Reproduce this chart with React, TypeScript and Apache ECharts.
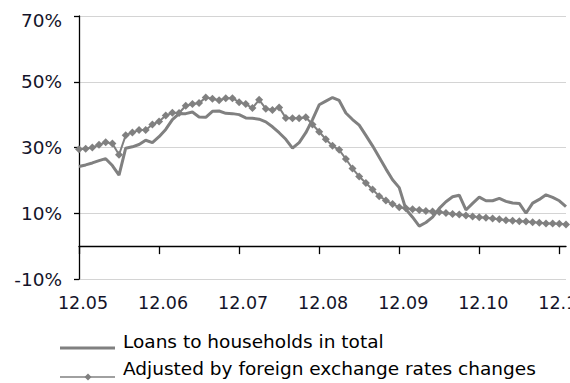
import React, { useEffect, useRef } from "react";
import * as echarts from "echarts";

// Month labels on the category axis (one tick per month)
const months = ["12.05", "12.06", "12.07", "12.08", "12.09", "12.10", "12.11"];
const pointsPerMonth = 12;

// Annual growth, %
const loansTotal = [
  24.2, 24.7, 25.3, 26.0, 26.6, 24.5, 21.6, 29.8, 30.2, 30.9,
  32.2, 31.5, 33.3, 35.5, 38.5, 40.3, 40.3, 40.8, 39.3, 39.2,
  41.0, 41.1, 40.4, 40.3, 40.0, 39.0, 38.9, 38.6, 37.8, 36.3,
  34.5, 32.5, 29.8, 31.5, 34.5, 38.5, 43.0, 44.1, 45.2, 44.3,
  40.5, 38.5, 36.8, 33.7, 30.5, 27.0, 23.5, 20.2, 17.8, 11.2,
  8.8, 6.1, 7.2, 8.8, 11.5, 13.5, 15.0, 15.5, 11.0, 13.0,
  14.9, 13.8, 13.8, 14.5, 13.6, 13.1, 13.0, 10.0, 13.1, 14.2,
  15.6, 14.8, 13.8, 12.0,
];

const adjustedFx = [
  29.5, 29.6, 30.0, 30.8, 31.6, 31.2, 27.8, 33.7, 34.6, 35.3,
  35.3, 37.0, 37.9, 39.7, 40.6, 40.5, 42.7, 43.2, 43.5, 45.2,
  44.8, 44.4, 45.0, 45.0, 43.8, 43.2, 42.0, 44.5, 41.8, 41.4,
  42.2, 39.0, 38.9, 38.9, 39.2, 37.0, 34.8, 32.5, 30.5, 29.3,
  26.5, 23.6, 21.2, 19.2, 17.2, 15.2, 13.9, 12.8, 11.8, 11.5,
  11.2, 11.0, 10.7, 10.5, 10.4, 10.1, 9.8, 9.6, 9.3, 9.0,
  8.8, 8.6, 8.4, 8.2, 7.9, 7.7, 7.6, 7.5, 7.3, 7.1,
  6.9, 6.9, 6.8, 6.6,
];

const seriesNames = [
  "Loans to households in total",
  "Adjusted by foreign exchange rates changes",
];

const yMin = -10;
const yMax = 70;
const yInterval = 20;

const FONT = "'DejaVu Sans', Verdana, sans-serif";
const GREY = "#808080";
const LABEL = "#14142a";

const categories = loansTotal.map((_, i) => {
  const m = Math.floor(i / pointsPerMonth);
  return `${months[m]}/${(i % pointsPerMonth) + 1}`;
});

export default function App() {
  const ref = useRef<HTMLDivElement>(null);

  useEffect(() => {
    if (!ref.current) return;
    const chart = echarts.init(ref.current, undefined, { renderer: "svg" });
    const monthLabel = (v: string) => String(v).split("/")[0];

    chart.setOption({
      animation: false,
      backgroundColor: "#ffffff",
      grid: {
        left: 79,
        right: 4,
        top: 16,
        bottom: 104,
        containLabel: false,
        outerBoundsMode: "none",
      },
      xAxis: [
        {
          type: "category",
          data: categories,
          boundaryGap: false,
          position: "bottom",
          axisLine: { show: false, onZero: false },
          axisTick: { show: false },
          splitLine: { show: false },
          axisLabel: {
            interval: pointsPerMonth - 1,
            formatter: monthLabel,
            margin: 15,
            fontSize: 17.5,
            fontFamily: FONT,
            color: LABEL,
            padding: [0, 0, 0, 8],
          },
        },
        {
          type: "category",
          data: categories,
          boundaryGap: false,
          position: "top",
          axisLine: {
            show: true,
            onZero: true,
            lineStyle: { color: "#000000", width: 1.3 },
          },
          axisTick: {
            show: true,
            inside: true,
            interval: pointsPerMonth - 1,
            length: 8,
            lineStyle: { color: "#000000", width: 1.3 },
          },
          axisLabel: { show: false },
          splitLine: { show: false },
        },
      ],
      yAxis: {
        type: "value",
        min: yMin,
        max: yMax,
        interval: yInterval,
        axisLine: {
          show: true,
          onZero: false,
          lineStyle: { color: "#000000", width: 1.3 },
        },
        axisTick: {
          show: true,
          length: 5,
          lineStyle: { color: "#000000", width: 1.3 },
        },
        splitLine: {
          show: true,
          lineStyle: { color: "#d4d4d4", width: 1.2 },
        },
        axisLabel: {
          margin: 17,
          fontSize: 18.5,
          fontFamily: FONT,
          color: LABEL,
          formatter: (v: number) => (v === yMax ? `{top|${v}%}` : `${v}%`),
          rich: {
            top: {
              fontSize: 18.5,
              fontFamily: FONT,
              color: LABEL,
              padding: [8, 0, 0, 0],
            },
          },
        },
      },
      graphic: [
        {
          type: "line",
          shape: { x1: 60, y1: 348, x2: 115, y2: 348 },
          style: { stroke: GREY, lineWidth: 3 },
        },
        {
          type: "text",
          x: 123,
          y: 341,
          style: {
            text: seriesNames[0],
            fontSize: 18.5,
            fontFamily: FONT,
            fill: "#000000",
            verticalAlign: "middle",
            align: "left",
          },
        },
        {
          type: "line",
          shape: { x1: 60, y1: 377, x2: 115, y2: 377 },
          style: { stroke: GREY, lineWidth: 1.5 },
        },
        {
          type: "polygon",
          shape: {
            points: [
              [88, 373.5],
              [91.5, 377],
              [88, 380.5],
              [84.5, 377],
            ],
          },
          style: { fill: GREY },
        },
        {
          type: "text",
          x: 123,
          y: 368,
          style: {
            text: seriesNames[1],
            fontSize: 18.5,
            fontFamily: FONT,
            fill: "#000000",
            verticalAlign: "middle",
            align: "left",
          },
        },
      ],
      series: [
        {
          name: seriesNames[0],
          type: "line",
          xAxisIndex: 0,
          data: loansTotal,
          symbol: "none",
          showSymbol: false,
          lineStyle: { color: GREY, width: 3 },
          itemStyle: { color: GREY },
        },
        {
          name: seriesNames[1],
          type: "line",
          xAxisIndex: 0,
          data: adjustedFx,
          symbol: "diamond",
          symbolSize: 8,
          showSymbol: true,
          showAllSymbol: true,
          lineStyle: { color: GREY, width: 2 },
          itemStyle: { color: GREY },
        },
      ],
    });

    return () => chart.dispose();
  }, []);

  return (
    <div
      ref={ref}
      style={{ position: "absolute", left: 0, top: 0, width: 570, height: 383 }}
    />
  );
}
